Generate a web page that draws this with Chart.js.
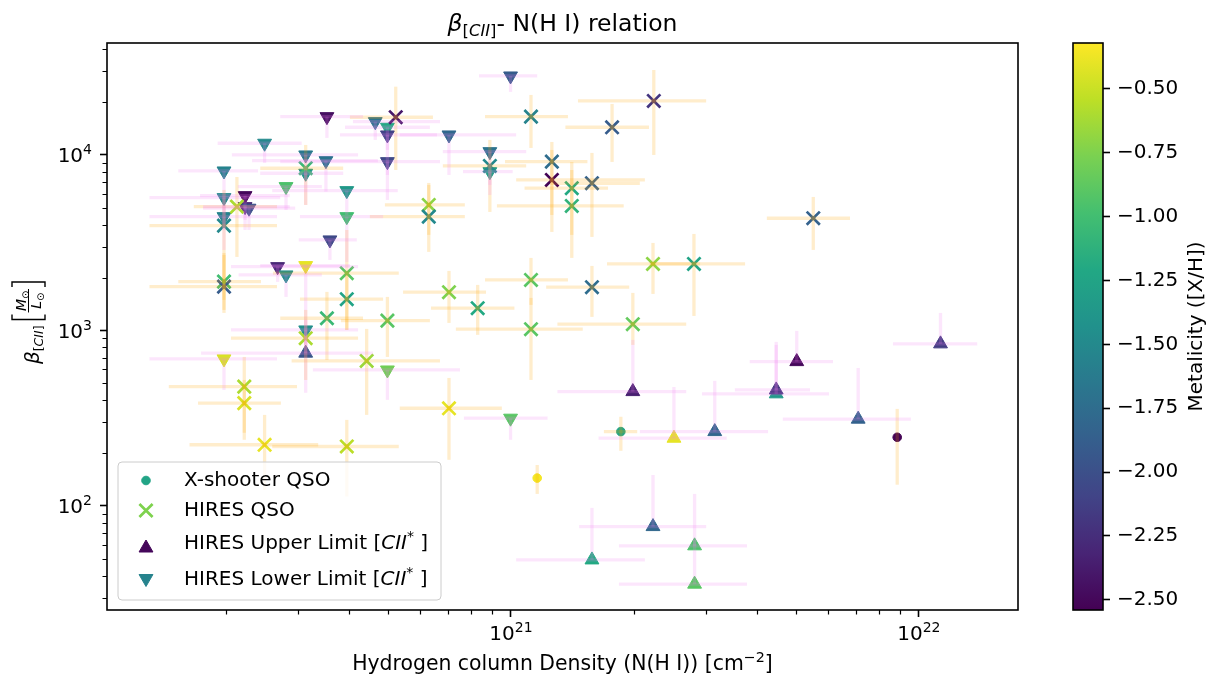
<!DOCTYPE html>
<html>
<head>
<meta charset="utf-8">
<title>beta CII - N(H I) relation</title>
<script src="https://cdn.jsdelivr.net/npm/chart.js@4.4.1/dist/chart.umd.min.js"></script>
<style>
  html, body { margin: 0; padding: 0; background: #fff; }
  #wrap { position: relative; width: 1211px; height: 678px; overflow: hidden; }
  #main { position: absolute; left: 0; top: 0; }
  #cbar { position: absolute; left: 1040px; top: 0; }
</style>
</head>
<body>
<div id="wrap">
  <canvas id="main" width="1211" height="678"></canvas>
  <canvas id="cbar" width="171" height="678"></canvas>
</div>
<script>
// ---- data ----
// X-shooter QSO
const xsNHI   = [1.86e21, 1.16e21, 8.85e21];
const xsBeta  = [265, 144, 246];
const xsMetal = [-1.25, -0.35, -2.53];
const xsNLo   = [1.69e21, 1.16e21, 8.85e21];
const xsNHi   = [2.04e21, 1.16e21, 8.85e21];
const xsBLo   = [206, 117, 132];
const xsBHi   = [322, 171, 357];

// HIRES QSO
const hiNHI   = [7.05e20, 5.22e20, 1.12e21, 2.24e21, 1.77e21, 8.88e20, 1.26e21, 1.26e21, 1.41e21, 1.41e21,
                 1.58e21, 6.29e20, 6.29e20, 5.51e21, 3.14e20, 2.13e20, 1.98e20, 3.96e20, 1.98e20, 1.98e20,
                 3.96e20, 3.54e20, 4.98e20, 3.14e20, 4.43e20, 2.22e20, 2.22e20, 2.49e20, 3.96e20, 2.23e21,
                 2.81e21, 8.29e20, 1.12e21, 1.58e21, 1.12e21, 1.99e21, 7.05e20];
const hiBeta  = [1651, 16400, 16530, 20320, 14380, 8655, 9158, 7203, 6462, 5122,
                 6898, 5189, 4450, 4358, 8399, 5075, 3956, 2118, 1897, 1777,
                 1506, 1173, 1137, 903, 670, 478, 385, 223, 218, 2393,
                 2393, 1338, 1940, 1763, 1016, 1085, 360];
const hiMetal = [-0.75, -2.4, -1.55, -2.2, -1.9, -1.5, -1.75, -2.53, -1.2, -1.1,
                 -1.85, -0.7, -1.5, -1.85, -1.05, -0.6, -1.5, -0.9, -1.0, -1.9,
                 -1.25, -1.05, -0.9, -0.6, -0.65, -0.6, -0.45, -0.4, -0.55, -0.7,
                 -1.25, -1.2, -0.9, -1.75, -0.9, -0.85, -0.4];
const hiNLo   = [5.44e20, 4.03e20, 8.64e20, 1.46e21, 1.36e21, 6.81e20, 9.67e20, 1.03e21, 1.08e21, 9.24e20,
                 1.25e21, 4.91e20, 4.51e20, 4.24e21, 2.43e20, 1.67e20, 1.30e20, 2.61e20, 1.53e20, 1.30e20,
                 3.04e20, 2.72e20, 3.83e20, 2.06e20, 2.90e20, 1.45e20, 1.71e20, 1.63e20, 2.60e20, 1.72e21,
                 2.19e21, 6.37e20, 8.64e20, 1.22e21, 7.33e20, 1.30e21, 5.34e20];
const hiNHi   = [8.69e20, 6.44e20, 1.38e21, 3.01e21, 2.18e21, 1.09e21, 1.54e21, 2.13e21, 1.73e21, 1.89e21,
                 2.07e21, 7.71e20, 7.71e20, 6.78e21, 3.88e20, 2.67e20, 2.67e20, 5.31e20, 2.44e20, 2.67e20,
                 4.86e20, 4.34e20, 6.33e20, 4.22e20, 6.70e20, 2.99e20, 2.73e20, 3.37e20, 5.31e20, 2.91e21,
                 3.75e21, 1.02e21, 1.38e21, 1.95e21, 1.50e21, 2.69e21, 9.50e20];
const hiBLo   = [1103, 8211, 10960, 10000, 9123, 4733, 3641, 4550, 2589, 3501,
                 3410, 3501, 2802, 2876, 5189, 2623, 1492, 1006, 1309, 1258,
                 1006, 679, 706, 522, 330, 261, 238, 123, 113, 1614,
                 1209, 943, 1398, 1194, 522, 827, 183];
const hiBHi   = [2183, 24500, 21980, 30500, 19530, 12180, 11860, 10680, 9123, 8211,
                 10270, 6748, 6927, 5764, 11400, 7490, 6319, 3737, 2693, 2764,
                 2071, 1658, 1552, 1309, 1020, 706, 522, 330, 309, 3152,
                 3547, 1817, 2589, 2331, 1532, 1636, 536];

// HIRES upper limits [CII*]
const upNHI   = [5.02e21, 1.99e21, 2.51e21, 3.16e21, 4.47e21, 4.47e21, 1.13e22, 7.10e21, 1.58e21, 2.23e21, 2.82e21, 2.82e21, 3.14e20];
const upBeta  = [664, 448, 243, 265, 435, 458, 838, 312, 49.2, 76.2, 59.2, 35.8, 742];
const upMetal = [-2.5, -2.35, -0.4, -1.8, -1.35, -2.2, -2.15, -1.85, -1.2, -1.8, -0.95, -0.9, -1.95];
const upNLo   = [3.85e21, 1.30e21, 1.64e21, 2.07e21, 2.94e21, 3.54e21, 8.64e21, 4.64e21, 1.03e21, 1.47e21, 1.84e21, 1.84e21, 1.74e20];
const upNHi   = [6.16e21, 2.69e21, 3.38e21, 4.27e21, 6.02e21, 5.41e21, 1.39e22, 9.56e21, 2.13e21, 3.01e21, 3.79e21, 3.79e21, 4.59e20];
const upBTop  = [994, 883, 476, 516, 827, 860, 1258, 611, 97.4, 150, 117, 64, 1148];

// HIRES lower limits [CII*]
const loNHI   = [1.98e20, 3.54e20, 4.65e20, 4.98e20, 4.98e20, 4.98e20, 2.49e20, 3.14e20, 3.52e20, 3.14e20,
                 2.81e20, 3.96e20, 1.98e20, 2.23e20, 2.23e20, 2.28e20, 1.98e20, 3.96e20, 3.60e20, 9.98e20,
                 7.05e20, 8.88e20, 8.88e20, 2.68e20, 2.81e20, 3.14e20, 3.14e20, 1.98e20, 4.98e20, 9.98e20];
const loBeta  = [8105, 16530, 15480, 14380, 13000, 9158, 11660, 10000, 9279, 7864,
                 6599, 6260, 5711, 5862, 5075, 4970, 4450, 4450, 3279, 28190,
                 13000, 10440, 8030, 2309, 2071, 2340, 1006, 688, 595, 316];
const loMetal = [-1.55, -2.45, -1.7, -1.2, -2.1, -2.05, -1.5, -1.65, -1.7, -1.4,
                 -0.95, -1.35, -1.5, -2.5, -2.3, -2.0, -1.55, -1.0, -2.05, -1.9,
                 -1.8, -1.7, -1.3, -2.3, -1.45, -0.4, -1.45, -0.45, -0.8, -0.9];
const loNLo   = [1.53e20, 2.72e20, 4.10e20, 3.92e20, 3.81e20, 2.72e20, 1.91e20, 2.07e20, 2.32e20, 2.43e20,
                 2.14e20, 2.60e20, 1.30e20, 1.73e20, 1.76e20, 1.76e20, 1.30e20, 3.04e20, 3.02e20, 8.35e20,
                 5.34e20, 6.81e20, 7.63e20, 2.06e20, 2.15e20, 2.43e20, 2.06e20, 1.30e20, 3.27e20, 7.67e20];
const loNHi   = [2.40e20, 4.34e20, 6.70e20, 6.33e20, 6.59e20, 6.70e20, 3.07e20, 4.22e20, 4.72e20, 3.88e20,
                 3.44e20, 5.28e20, 2.72e20, 2.87e20, 2.87e20, 2.96e20, 2.67e20, 4.86e20, 4.19e20, 1.16e21,
                 1.03e21, 1.09e21, 1.01e21, 4.22e20, 3.44e20, 4.03e20, 4.22e20, 2.67e20, 7.50e20, 1.23e21];
const loBBot  = [4550, 12500, 12180, 10680, 7691, 5541, 9004, 7203, 6179, 5189,
                 4861, 4550, 3737, 4263, 3737, 3737, 2876, 2457, 2522, 22860,
                 7691, 6748, 5917, 1890, 1552, 441, 827, 458, 402, 238];

// axes
const xMin = 1.023e20, xMax = 1.75e22;
const yMin = 25.5, yMax = 43450;
const xMajor = [1e21, 1e22];
const yMajor = [1e2, 1e3, 1e4];
const cMin = -2.54, cMax = -0.32;
const cbarTicks = [-2.5, -2.25, -2.0, -1.75, -1.5, -1.25, -1.0, -0.75, -0.5];

// ---- helpers ----
const VIRIDIS = [[68,1,84],[72,36,117],[65,68,135],[53,95,141],[42,120,142],[33,145,140],
                 [34,168,132],[68,191,112],[122,209,81],[189,223,38],[253,231,37]];
function viridis(m) {
  let t = (m - cMin) / (cMax - cMin);
  t = Math.max(0, Math.min(1, t));
  const s = t * 10, i = Math.min(9, Math.floor(s)), fr = s - i;
  const a = VIRIDIS[i], b = VIRIDIS[i + 1];
  const c = a.map((v, k) => Math.round(v + (b[k] - v) * fr));
  return `rgb(${c[0]},${c[1]},${c[2]})`;
}
const FONT = '"DejaVu Sans"';
Chart.defaults.font.family = FONT;
Chart.defaults.color = '#000';
const f = (size, italic) => `${italic ? 'italic ' : ''}${size}px ${FONT}`;
const toPts = (xs, ys) => xs.map((x, i) => ({ x, y: ys[i] }));
const powRuns = v => [
  { t: '10', font: f(20) },
  { t: String(Math.round(Math.log10(v))), font: f(14), dy: -8 },
];

function runsWidth(ctx, runs) {
  return runs.reduce((w, r) => { ctx.font = r.font; return w + ctx.measureText(r.t).width; }, 0);
}
function drawRuns(ctx, runs, x, y) {
  runs.forEach(r => {
    ctx.font = r.font;
    ctx.fillText(r.t, x, y + (r.dy || 0));
    x += ctx.measureText(r.t).width;
  });
  return x;
}

const ORANGE_ERR = 'rgba(255,165,0,0.2)';
const VIOLET_ERR = 'rgba(238,130,238,0.2)';

const errGroups = [
  { color: ORANGE_ERR, n: xsNHI, b: xsBeta, nLo: xsNLo, nHi: xsNHi, bLo: xsBLo, bHi: xsBHi },
  { color: ORANGE_ERR, n: hiNHI, b: hiBeta, nLo: hiNLo, nHi: hiNHi, bLo: hiBLo, bHi: hiBHi },
  { color: VIOLET_ERR, n: upNHI, b: upBeta, nLo: upNLo, nHi: upNHi, bLo: upBeta, bHi: upBTop },
  { color: VIOLET_ERR, n: loNHI, b: loBeta, nLo: loNLo, nHi: loNHi, bLo: loBBot, bHi: loBeta },
];

// error bars sit on top of the markers, like matplotlib's errorbar lines
const errorBars = {
  id: 'errorBars',
  afterDatasetsDraw(chart) {
    const { ctx, chartArea: a, scales: { x, y } } = chart;
    ctx.save();
    ctx.beginPath();
    ctx.rect(a.left, a.top, a.width, a.height);
    ctx.clip();
    ctx.lineWidth = 3.3;
    ctx.lineCap = 'butt';
    const seg = (x0, y0, x1, y1) => { ctx.beginPath(); ctx.moveTo(x0, y0); ctx.lineTo(x1, y1); ctx.stroke(); };
    errGroups.forEach(g => {
      ctx.strokeStyle = g.color;
      g.n.forEach((n, i) => {
        const px = x.getPixelForValue(n), py = y.getPixelForValue(g.b[i]);
        const x0 = x.getPixelForValue(g.nLo[i]), x1 = x.getPixelForValue(g.nHi[i]);
        const y0 = y.getPixelForValue(g.bLo[i]), y1 = y.getPixelForValue(g.bHi[i]);
        if (y0 - y1 > 0.5) seg(px, y0, px, y1);
        if (x1 - x0 > 0.5) seg(x0, py, x1, py);
      });
    });
    ctx.restore();
  }
};

const limitTag = [{ t: 'CII', font: f(20, true) }, { t: '*', font: f(14), dy: -8 }, { t: ' ]', font: f(20) }];
const legendRows = [
  { ds: 0, label: [{ t: 'X-shooter QSO', font: f(20) }], my: 480.5, ty: 486 },
  { ds: 1, label: [{ t: 'HIRES QSO', font: f(20) }], my: 510.5, ty: 516 },
  { ds: 2, label: [{ t: 'HIRES Upper Limit [', font: f(20) }, ...limitTag], my: 548, ty: 548.5 },
  { ds: 3, label: [{ t: 'HIRES Lower Limit [', font: f(20) }, ...limitTag], my: 578.5, ty: 585 },
];

const decor = {
  id: 'decor',
  afterDraw(chart) {
    const { ctx, chartArea: a, scales: { x, y } } = chart;
    ctx.save();
    // minor ticks
    ctx.strokeStyle = '#000';
    ctx.lineWidth = 1.2;
    ctx.beginPath();
    for (let e = 19; e <= 22; e++) for (let m = 2; m <= 9; m++) {
      const v = m * Math.pow(10, e);
      if (v > xMin && v < xMax) {
        const px = Math.round(x.getPixelForValue(v)) + 0.5;
        ctx.moveTo(px, a.bottom); ctx.lineTo(px, a.bottom + 4.5);
      }
    }
    for (let e = 1; e <= 4; e++) for (let m = 2; m <= 9; m++) {
      const v = m * Math.pow(10, e);
      if (v > yMin && v < yMax) {
        const py = Math.round(y.getPixelForValue(v)) + 0.5;
        ctx.moveTo(a.left, py); ctx.lineTo(a.left - 4.5, py);
      }
    }
    ctx.stroke();
    // frame
    ctx.lineWidth = 1.6;
    ctx.strokeRect(a.left, a.top, a.width, a.height);

    ctx.fillStyle = '#000';
    ctx.textBaseline = 'alphabetic';
    // major tick labels, 10^n
    xMajor.forEach(v => {
      const runs = powRuns(v);
      drawRuns(ctx, runs, x.getPixelForValue(v) - runsWidth(ctx, runs) / 2, 640);
    });
    yMajor.forEach(v => {
      const runs = powRuns(v);
      drawRuns(ctx, runs, a.left - 15 - runsWidth(ctx, runs), y.getPixelForValue(v) + 7.5);
    });

    const cx = (a.left + a.right) / 2;
    // title
    const titleRuns = [
      { t: 'β', font: f(23.5, true) },
      { t: '[', font: f(16.4), dy: 5 }, { t: 'CII', font: f(16.4, true), dy: 5 }, { t: ']', font: f(16.4), dy: 5 },
      { t: '- N(H I) relation', font: f(23.5) },
    ];
    drawRuns(ctx, titleRuns, cx - runsWidth(ctx, titleRuns) / 2, 31);
    // x label
    const xRuns = [
      { t: 'Hydrogen column Density (N(H I)) [cm', font: f(20.4) },
      { t: '\u22122', font: f(14.3), dy: -8 },
      { t: ']', font: f(20.4) },
    ];
    drawRuns(ctx, xRuns, cx - runsWidth(ctx, xRuns) / 2, 670);

    // y label: beta_[CII] [M_sun / L_sun]
    const betaRuns = [
      { t: 'β', font: f(20, true) },
      { t: '[', font: f(12.5), dy: 4 }, { t: 'CII', font: f(12.5, true), dy: 4 }, { t: ']', font: f(12.5), dy: 4 },
    ];
    const num = [{ t: 'M', font: f(14, true) }, { t: '⊙', font: f(10), dy: 3 }];
    const den = [{ t: 'L', font: f(14, true) }, { t: '⊙', font: f(10), dy: 3 }];
    const wBeta = runsWidth(ctx, betaRuns) + 5;
    const wBr = 8, arm = 5, brTop = -27, brBot = 6;
    const wFrac = Math.max(runsWidth(ctx, num), runsWidth(ctx, den)) + 3;
    const total = wBeta + wBr * 2 + wFrac;
    ctx.save();
    ctx.translate(39, 281 + total);
    ctx.rotate(-Math.PI / 2);
    let u = drawRuns(ctx, betaRuns, 0, 0) + 5;
    ctx.lineWidth = 1.4;
    ctx.beginPath();
    ctx.moveTo(u + 1 + arm, brTop); ctx.lineTo(u + 1, brTop); ctx.lineTo(u + 1, brBot); ctx.lineTo(u + 1 + arm, brBot);
    ctx.stroke();
    u += wBr;
    drawRuns(ctx, num, u + (wFrac - runsWidth(ctx, num)) / 2, -13.5);
    drawRuns(ctx, den, u + (wFrac - runsWidth(ctx, den)) / 2, 2);
    ctx.lineWidth = 1;
    ctx.beginPath(); ctx.moveTo(u, -10.5); ctx.lineTo(u + wFrac, -10.5); ctx.stroke();
    u += wFrac;
    ctx.lineWidth = 1.4;
    ctx.beginPath();
    ctx.moveTo(u + wBr - 1 - arm, brTop); ctx.lineTo(u + wBr - 1, brTop); ctx.lineTo(u + wBr - 1, brBot); ctx.lineTo(u + wBr - 1 - arm, brBot);
    ctx.stroke();
    ctx.restore();

    // legend
    const lx = 118, ly = 462, lw = 323, lh = 138, r = 4;
    ctx.beginPath();
    ctx.moveTo(lx + r, ly); ctx.arcTo(lx + lw, ly, lx + lw, ly + lh, r); ctx.arcTo(lx + lw, ly + lh, lx, ly + lh, r);
    ctx.arcTo(lx, ly + lh, lx, ly, r); ctx.arcTo(lx, ly, lx + lw, ly, r); ctx.closePath();
    ctx.fillStyle = 'rgba(255,255,255,0.8)'; ctx.fill();
    ctx.strokeStyle = '#cccccc'; ctx.lineWidth = 1; ctx.stroke();
    legendRows.forEach(row => {
      const ds = chart.data.datasets[row.ds];
      const col = ds.pointBackgroundColor[0];
      ctx.fillStyle = col; ctx.strokeStyle = col;
      ctx.lineWidth = ds.pointBorderWidth;
      Chart.helpers.drawPoint(ctx, {
        pointStyle: ds.pointStyle, radius: ds.pointRadius, rotation: ds.pointRotation || 0, borderWidth: ds.pointBorderWidth
      }, 146, row.my);
      ctx.fillStyle = '#000';
      drawRuns(ctx, row.label, 184, row.ty);
    });
    ctx.restore();
  }
};

const pointColors = ms => ms.map(viridis);

new Chart(document.getElementById('main'), {
  type: 'scatter',
  data: {
    datasets: [
      { label: 'X-shooter QSO', data: toPts(xsNHI, xsBeta), pointStyle: 'circle', pointRadius: 4.3,
        pointBorderWidth: 1, pointBackgroundColor: pointColors(xsMetal), pointBorderColor: pointColors(xsMetal), order: 3 },
      { label: 'HIRES QSO', data: toPts(hiNHI, hiBeta), pointStyle: 'crossRot', pointRadius: 9.3,
        pointBorderWidth: 2.7, pointBackgroundColor: pointColors(hiMetal), pointBorderColor: pointColors(hiMetal), order: 0 },
      { label: 'HIRES Upper Limit [CII*]', data: toPts(upNHI, upBeta), pointStyle: 'triangle', pointRadius: 8,
        pointBorderWidth: 1, pointBackgroundColor: pointColors(upMetal), pointBorderColor: pointColors(upMetal), order: 2 },
      { label: 'HIRES Lower Limit [CII*]', data: toPts(loNHI, loBeta), pointStyle: 'triangle',
        pointRotation: 180, pointRadius: 8, pointBorderWidth: 1,
        pointBackgroundColor: pointColors(loMetal), pointBorderColor: pointColors(loMetal), order: 1 },
    ]
  },
  options: {
    responsive: false,
    animation: false,
    layout: { padding: { left: 0, top: 43, right: 193, bottom: 0 } },
    plugins: { legend: { display: false }, tooltip: { enabled: false } },
    scales: {
      x: {
        type: 'logarithmic', min: xMin, max: xMax,
        afterBuildTicks: s => { s.ticks = xMajor.map(v => ({ value: v })); },
        afterFit: s => { s.height = 68; },
        ticks: { display: false },
        grid: { drawOnChartArea: false, tickLength: 7, tickWidth: 1.6, tickColor: '#000' },
        border: { display: false }
      },
      y: {
        type: 'logarithmic', min: yMin, max: yMax,
        afterBuildTicks: s => { s.ticks = yMajor.map(v => ({ value: v })); },
        afterFit: s => { s.width = 107; },
        ticks: { display: false },
        grid: { drawOnChartArea: false, tickLength: 7, tickWidth: 1.6, tickColor: '#000' },
        border: { display: false }
      }
    }
  },
  plugins: [errorBars, decor]
});

// ---- colour bar ----
const colorbarPaint = {
  id: 'colorbarPaint',
  beforeDatasetsDraw(chart) {
    const { ctx, chartArea: a } = chart;
    const g = ctx.createLinearGradient(0, a.bottom, 0, a.top);
    VIRIDIS.forEach((c, i) => g.addColorStop(i / 10, `rgb(${c[0]},${c[1]},${c[2]})`));
    ctx.save();
    ctx.fillStyle = g;
    ctx.fillRect(a.left, a.top, a.width, a.height);
    ctx.restore();
  },
  afterDraw(chart) {
    const { ctx, chartArea: a } = chart;
    ctx.save();
    ctx.strokeStyle = '#000';
    ctx.lineWidth = 1.6;
    ctx.strokeRect(a.left, a.top, a.width, a.height);
    ctx.translate(157, (a.top + a.bottom) / 2);
    ctx.rotate(-Math.PI / 2);
    ctx.fillStyle = '#000';
    ctx.font = f(20);
    ctx.textAlign = 'center';
    ctx.textBaseline = 'middle';
    ctx.fillText('Metalicity ([X/H])', 0, 0);
    ctx.restore();
  }
};

new Chart(document.getElementById('cbar'), {
  type: 'scatter',
  data: { datasets: [] },
  options: {
    responsive: false,
    animation: false,
    layout: { padding: { left: 33, top: 43, right: 0, bottom: 68 } },
    plugins: { legend: { display: false }, tooltip: { enabled: false } },
    scales: {
      x: { display: false },
      y: {
        type: 'linear', position: 'right', min: cMin, max: cMax,
        afterBuildTicks: s => { s.ticks = cbarTicks.map(v => ({ value: v })); },
        afterFit: s => { s.width = 108; },
        ticks: { callback: v => v.toFixed(2).replace('-', '\u2212'), font: { size: 20 }, color: '#000', padding: 7 },
        grid: { drawOnChartArea: false, tickLength: 7, tickWidth: 1.6, tickColor: '#000' },
        border: { display: false }
      }
    }
  },
  plugins: [colorbarPaint]
});
</script>
</body>
</html>
